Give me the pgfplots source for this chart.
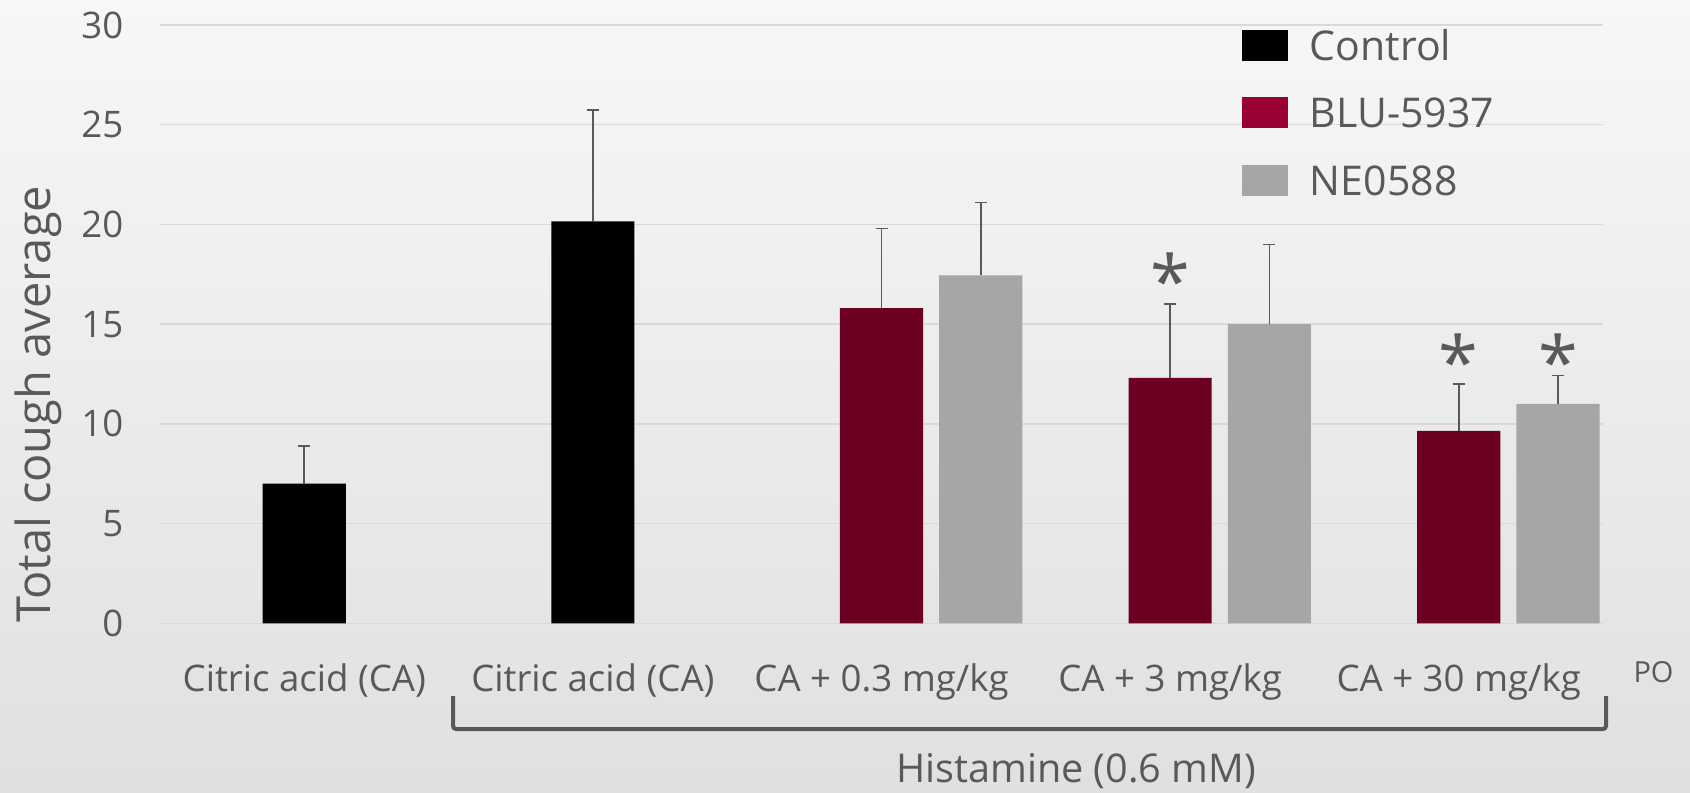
\documentclass[border=0pt]{standalone}
\usepackage{fontspec}
\setmainfont{Open Sans}
\usepackage{pgfplots}
\pgfplotsset{compat=1.18}
\definecolor{bgtop}{HTML}{F7F7F7}
\definecolor{bgbot}{HTML}{E0E0E0}
\definecolor{txt}{HTML}{595959}
\definecolor{gridc}{HTML}{D9D9D9}
\definecolor{blu}{HTML}{6D0020}
\definecolor{blulegend}{HTML}{990033}
\definecolor{ne}{HTML}{A6A6A6}

\pgfplotstableread{
x y e
0 7.0 1.9
1 20.15 5.6
}\controldata
\pgfplotstableread{
x y e
2 15.8 4.0
3 12.3 3.7
4 9.65 2.35
}\bludata
\pgfplotstableread{
x y e
2.344 17.45 3.65
3.344 15.0 4.0
4.344 11.0 1.42
}\nedata

\begin{document}
\begin{tikzpicture}
\useasboundingbox (0,0) rectangle (845pt,396pt);
\shade[top color=bgtop, bottom color=bgbot] (0,0) rectangle (845pt,396pt);
\begin{axis}[
  at={(80pt,84.35pt)}, anchor=south west,
  scale only axis, width=721.5pt, height=299.15pt,
  xmin=-0.5, xmax=4.5, ymin=0, ymax=30,
  ytick={0,5,...,30},
  xtick={0,1,2,3,4},
  xticklabels={Citric acid (CA), Citric acid (CA), CA + 0.3 mg/kg, CA + 3 mg/kg, CA + 30 mg/kg},
  axis line style={draw=none},
  major tick length=0pt,
  ymajorgrids, grid style={gridc, line width=0.65pt},
  /pgf/number format/assume math mode=true,
  yticklabel style={anchor=east, inner sep=0pt, text height=13.1pt, text depth=0pt, xshift=-18.2pt, font=\fontsize{18.3}{22}\selectfont, text=txt},
  xticklabel style={anchor=base, inner sep=0pt, yshift=-34.35pt, font=\fontsize{18.3}{22}\selectfont, text=txt},
  ylabel={Total cough average},
  every axis y label/.style={at={(axis description cs:-0.0762,0.3662)}, rotate=90, anchor=base, font=\fontsize{23.5}{28}\selectfont, text=txt},
  legend cell align=left,
  legend style={at={(axis description cs:0.7498,0.9917)}, anchor=north west, draw=none, fill=none, inner sep=0pt, outer sep=0pt, row sep=18.25pt, column sep=11pt, font=\fontsize{20.5}{24}\selectfont, text=txt, nodes={inner sep=0pt, anchor=west, text height=14.6pt, text depth=0pt}},
  legend image code/.code={\fill[#1, draw=none] (0pt,-7.75pt) rectangle (23pt,7.75pt);},
]
\addplot[ybar, bar width=0.288, bar shift=0pt, fill=black, draw=none, forget plot,
  error bars/.cd, y dir=plus, y explicit,
  error bar style={txt, line width=0.85pt},
  error mark options={rotate=90, mark size=3pt, line width=0.85pt, txt}]
  table[x=x, y=y, y error=e] {\controldata};
\addplot[ybar, bar width=0.288, bar shift=0pt, fill=blu, draw=none, forget plot,
  error bars/.cd, y dir=plus, y explicit,
  error bar style={txt, line width=0.85pt},
  error mark options={rotate=90, mark size=3pt, line width=0.85pt, txt}]
  table[x=x, y=y, y error=e] {\bludata};
\addplot[ybar, bar width=0.288, bar shift=0pt, fill=ne, draw=none, forget plot,
  error bars/.cd, y dir=plus, y explicit,
  error bar style={txt, line width=0.85pt},
  error mark options={rotate=90, mark size=3pt, line width=0.85pt, txt}]
  table[x=x, y=y, y error=e] {\nedata};
\addlegendimage{fill=black}
\addlegendentry{Control}
\addlegendimage{fill=blulegend}
\addlegendentry{BLU-5937}
\addlegendimage{fill=ne}
\addlegendentry{NE0588}
\node[anchor=north, inner sep=0pt, font=\fontsize{36}{40}\selectfont, text=txt] at (axis cs:3,18.58) {*};
\node[anchor=north, inner sep=0pt, font=\fontsize{36}{40}\selectfont, text=txt] at (axis cs:4,14.56) {*};
\node[anchor=north, inner sep=0pt, font=\fontsize{36}{40}\selectfont, text=txt] at (axis cs:4.344,14.56) {*};
\end{axis}
\draw[txt, line width=2pt, rounded corners=1.5pt] (226.5pt,48pt) -- (226.5pt,31.5pt) -- (803pt,31.5pt) -- (803pt,48pt);
\node[anchor=base, inner sep=0pt, font=\fontsize{19.8}{24}\selectfont, text=txt] at (538pt,4.65pt) {Histamine (0.6 mM)};
\node[anchor=center, inner sep=0pt, font=\fontsize{14.5}{17}\selectfont, text=txt] at (826.75pt,59.75pt) {PO};
\end{tikzpicture}
\end{document}
